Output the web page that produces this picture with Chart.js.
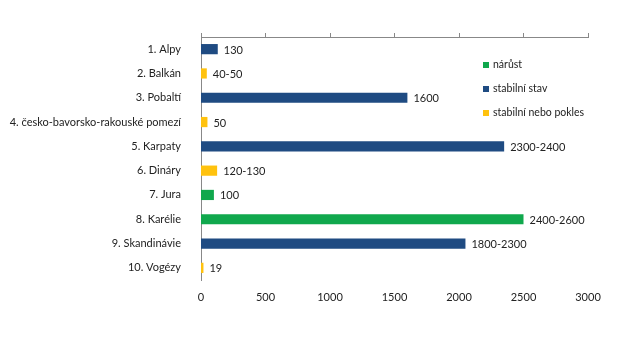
<!DOCTYPE html>
<html>
<head>
<meta charset="utf-8">
<script src="https://cdn.jsdelivr.net/npm/chart.js@4"></script>
<style>
  body { margin: 0; background: #fff; }
  #wrap { width: 640px; height: 345px; position: relative; }
</style>
</head>
<body>
<div id="wrap"><canvas id="myChart"></canvas></div>
<script>
const regions = ["1. Alpy", "2. Balkán", "3. Pobaltí", "4. česko-bavorsko-rakouské pomezí", "5. Karpaty",
  "6. Dináry", "7. Jura", "8. Karélie", "9. Skandinávie", "10. Vogézy"];
const counts = [130, 45, 1600, 50, 2350, 125, 100, 2500, 2050, 19];
const countLabels = ["130", "40-50", "1600", "50", "2300-2400", "120-130", "100", "2400-2600", "1800-2300", "19"];
// 0 = nárůst, 1 = stabilní stav, 2 = stabilní nebo pokles
const trend = [1, 2, 1, 2, 1, 2, 0, 0, 1, 2];
const trendNames = ["nárůst", "stabilní stav", "stabilní nebo pokles"];
const trendColors = ["#10a84d", "#1f4b82", "#ffc20e"];
const xTicks = [0, 500, 1000, 1500, 2000, 2500, 3000];

const FONT = "Lato, 'Open Sans', sans-serif";

const ctx = document.getElementById("myChart").getContext("2d");

// value labels next to bars
const barLabels = {
  id: "barLabels",
  afterDatasetsDraw(chart) {
    const c = chart.ctx;
    const meta = chart.getDatasetMeta(0);
    c.save();
    c.font = "11px " + FONT;
    c.fillStyle = "#222";
    c.textBaseline = "middle";
    c.textAlign = "left";
    meta.data.forEach((bar, i) => {
      c.fillText(countLabels[i], bar.x + 6, bar.y + 1);
    });
    c.restore();
  }
};

// legend drawn inside the plot area
const sideLegend = {
  id: "sideLegend",
  afterDraw(chart) {
    const c = chart.ctx;
    c.save();
    c.font = "10.5px " + FONT;
    c.textBaseline = "middle";
    trendNames.forEach((name, i) => {
      const y = 65 + i * 24;
      c.fillStyle = trendColors[i];
      c.fillRect(483, y - 3, 6, 6);
      c.fillStyle = "#222";
      c.fillText(name, 493, y);
    });
    c.restore();
  }
};

new Chart(ctx, {
  type: "bar",
  data: {
    labels: regions,
    datasets: [{
      data: counts,
      backgroundColor: trend.map(t => trendColors[t]),
      barPercentage: 0.42,
      categoryPercentage: 1
    }]
  },
  options: {
    indexAxis: "y",
    responsive: true,
    maintainAspectRatio: false,
    animation: false,
    layout: { padding: { left: 0, right: 52, top: 0, bottom: 0 } },
    plugins: {
      legend: { display: false },
      tooltip: { enabled: false }
    },
    scales: {
      y: {
        offset: true,
        border: { display: true, color: "#888", width: 1 },
        grid: { display: false },
        ticks: { color: "#222", font: { family: FONT, size: 11 }, padding: 12 },
        afterFit: (s) => { s.width = 201; }
      },
      x: {
        position: "bottom",
        min: 0,
        max: 3000,
        afterBuildTicks: (s) => { s.ticks = xTicks.map(v => ({ value: v })); },
        border: { display: false },
        grid: { display: false, drawTicks: false },
        ticks: { color: "#222", font: { family: FONT, size: 11 }, padding: 11, callback: (v) => String(v) },
        afterFit: (s) => { s.height = 65; }
      },
      xTop: {
        position: "top",
        axis: "x",
        min: 0,
        max: 3000,
        afterBuildTicks: (s) => { s.ticks = xTicks.map(v => ({ value: v })); },
        border: { display: true, color: "#888", width: 1 },
        grid: { drawOnChartArea: false, drawTicks: true, tickLength: 4, color: "#888" },
        ticks: { display: false },
        afterFit: (s) => { s.height = 37; }
      }
    }
  },
  plugins: [barLabels, sideLegend]
});
</script>
</body>
</html>
